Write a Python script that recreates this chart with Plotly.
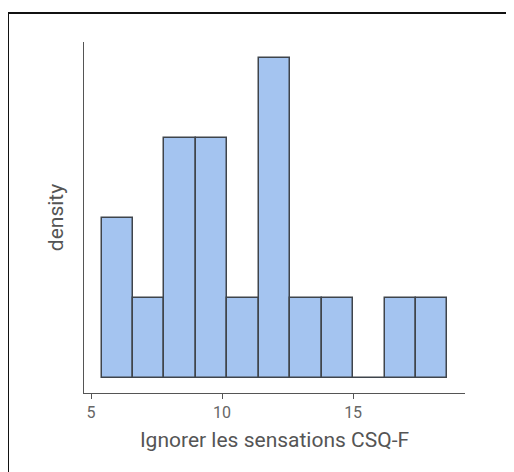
import plotly.graph_objects as go

# Histogram data (bin centers, counts per bin)
bin_centers = [6.0, 7.2, 8.4, 9.6, 10.8, 12.0, 13.2, 14.4, 15.6, 16.8, 18.0]
counts = [2, 1, 3, 3, 1, 4, 1, 1, 0, 1, 1]
bin_width = 1.2
x_ticks = [5, 10, 15]
x_title = "Ignorer les sensations CSQ-F"
y_title = "density"

n = sum(counts)
density = [c / (n * bin_width) for c in counts]
per_count = 1 / (n * bin_width)

fig = go.Figure()
fig.add_trace(go.Bar(
    x=bin_centers, y=density, width=bin_width,
    marker=dict(color="#A4C4F0", line=dict(color="#3f444b", width=1.5)),
    showlegend=False,
))

font = "Roboto, Liberation Sans, Arial, sans-serif"
fig.update_layout(
    width=506, height=464,
    margin=dict(l=76, r=49, t=34, b=79),
    paper_bgcolor="white", plot_bgcolor="white",
    bargap=0,
    font=dict(family=font),
    xaxis=dict(
        range=[4.73, 19.27], tickvals=x_ticks, ticktext=[str(t) for t in x_ticks],
        showline=True, linecolor="#555", linewidth=1.3,
        ticks="outside", ticklen=5, tickcolor="#555", tickwidth=1.3,
        showgrid=False, zeroline=False,
        tickfont=dict(size=16, color="#666", family=font),
        title=dict(text=x_title, font=dict(size=21, color="#555", family=font), standoff=10),
    ),
    yaxis=dict(
        range=[-0.19 * per_count, 4.2 * per_count],
        showline=True, linecolor="#555", linewidth=1.3,
        showticklabels=False, ticks="", showgrid=False, zeroline=False,
        title=dict(text=y_title, font=dict(size=21, color="#555", family=font), standoff=13),
    ),
    shapes=[dict(type="rect", xref="paper", yref="paper",
                 x0=-0.1995, x1=1.3, y0=-0.5, y1=1.0826,
                 line=dict(color="#111", width=2), fillcolor="rgba(0,0,0,0)", layer="below")],
)

fig.write_html("out.html")
